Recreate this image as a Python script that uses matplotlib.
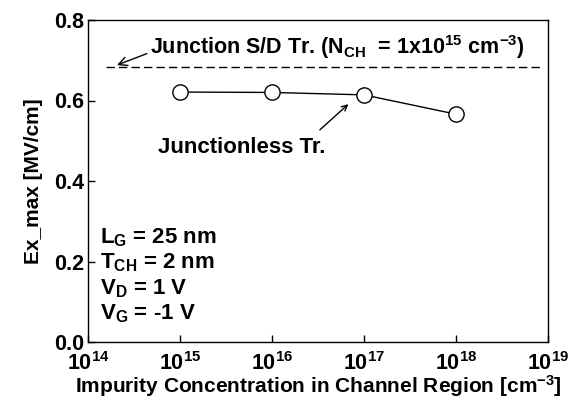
import numpy as np
import matplotlib
matplotlib.use('Agg')
import matplotlib.pyplot as plt
from matplotlib.ticker import LogLocator, NullLocator

plt.rcParams['font.family'] = ['Liberation Sans', 'DejaVu Sans']
plt.rcParams['font.weight'] = 'bold'

# junctionless transistor data
conc = [1e15, 1e16, 1e17, 1e18]
ex_max = [0.621, 0.620, 0.614, 0.566]

# junction S/D reference level
junction_level = 0.683
junction_span = [10**14.2, 10**18.91]

fig = plt.figure(figsize=(5.75, 4.0), dpi=100)
ax = fig.add_axes([88/575, 58/400, 460/575, 322/400])

ax.plot(junction_span, [junction_level, junction_level], color='black',
        linestyle=(0, (6, 3)), linewidth=1.0)
ax.plot(conc, ex_max, color='black', linewidth=1.0, marker='o', markersize=11,
        markerfacecolor='white', markeredgecolor='black', markeredgewidth=1.0)

ax.set_xscale('log')
ax.set_xlim(1e14, 1e19)
ax.set_ylim(0.0, 0.8)
ax.xaxis.set_major_locator(LogLocator(base=10, numticks=10))
ax.xaxis.set_minor_locator(NullLocator())
ax.set_yticks([0.0, 0.2, 0.4, 0.6, 0.8])
ax.set_yticklabels(['0.0', '0.2', '0.4', '0.6', '0.8'])
ax.tick_params(direction='in', length=5, width=1.0, labelsize=15.5)
ax.tick_params(axis='x', pad=7)
ax.tick_params(axis='y', pad=3)
for s in ax.spines.values():
    s.set_linewidth(1.0)

ax.set_xlabel('Impurity Concentration in Channel Region [cm$\\mathregular{^{-3}}$]',
              fontsize=15, fontweight='bold', labelpad=-1)
ax.set_ylabel('Ex_max [MV/cm]', fontsize=15, fontweight='bold', labelpad=8)

ax.annotate('Junction S/D Tr. (N$\\mathregular{_{CH}}$  = 1x10$\\mathregular{^{15}}$ cm$\\mathregular{^{-3}}$)',
            xy=(10**14.315, 0.688), xytext=(10**14.67, 0.733),
            fontsize=15.5, fontweight='bold', va='center', ha='left',
            arrowprops=dict(arrowstyle='->', color='black', lw=1.0,
                            shrinkA=0, shrinkB=0, relpos=(0, 0.3)))

ax.annotate('', xy=(10**16.83, 0.591), xytext=(10**16.52, 0.527),
            arrowprops=dict(arrowstyle='->', color='black', lw=1.0,
                            shrinkA=0, shrinkB=0))
ax.text(10**14.76, 0.484, 'Junctionless Tr.', fontsize=16, fontweight='bold',
        va='center', ha='left')

params = ['L$\\mathregular{_G}$ = 25 nm', 'T$\\mathregular{_{CH}}$ = 2 nm',
          'V$\\mathregular{_D}$ = 1 V', 'V$\\mathregular{_G}$ = -1 V']
for i, p in enumerate(params):
    ax.text(0.026, 0.325 - i * 0.079, p, transform=ax.transAxes, fontsize=16,
            fontweight='bold', va='center', ha='left')

fig.savefig('out.png', dpi=100)
